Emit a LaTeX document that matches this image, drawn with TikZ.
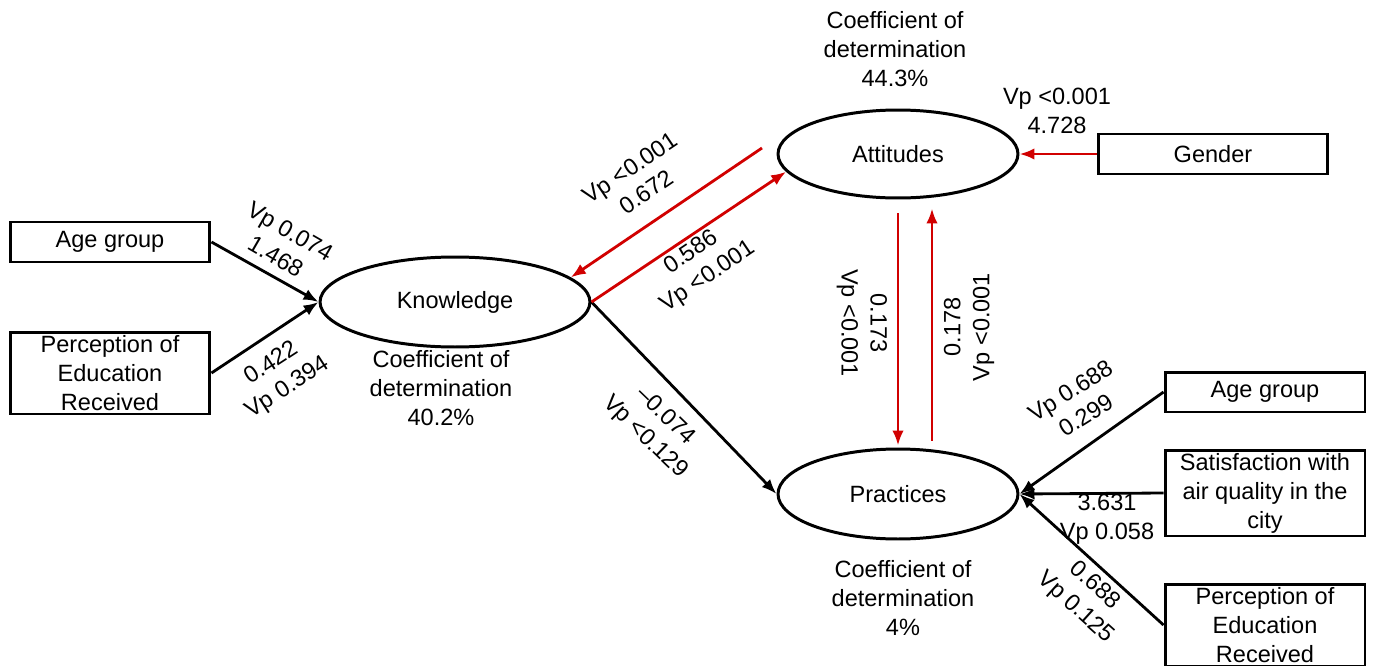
\documentclass[tikz,border=0pt]{standalone}
\usepackage{fontspec}
\setmainfont{Liberation Sans}
\usetikzlibrary{arrows.meta,shapes.geometric}
\definecolor{pathred}{HTML}{D10000}
\newcommand{\lbfont}{\fontsize{13.4}{16.5}\selectfont}

\begin{document}
\begin{tikzpicture}[x=0.02cm,y=-0.02cm]

\tikzset{>={Latex[width=2.3mm,length=3mm]}}
\tikzset{var/.style={draw,rectangle,line width=1.7pt,minimum width=4cm,align=center,font=\lbfont,inner sep=0pt},
	lat/.style={draw,ellipse,line width=1.7pt,font=\lbfont,inner sep=0pt},
	coef/.style={align=center,font=\lbfont,inner sep=0pt},
	blk/.style={->,line width=1.6pt,black},
	rd/.style={->,line width=1.6pt,pathred}}

\useasboundingbox (0,0) rectangle (1373,666);

%===================================================================
\node at (455,302) [lat,name=kn,minimum width=5.4cm,minimum height=1.8cm] {Knowledge};
\node at (898,154) [lat,name=at,minimum width=4.8cm,minimum height=1.76cm] {Attitudes};
\node at (898,494) [lat,name=pr,minimum width=4.8cm,minimum height=1.8cm] {Practices};

\node at (110,242) [var,name=ag1,minimum height=0.8cm] {Age group};
\node at (110,373) [var,name=pe1,minimum height=1.64cm] {Perception of\\Education\\Received};
\node at (1213,154) [var,name=ge,minimum width=4.6cm,minimum height=0.8cm] {Gender};
\node at (1265,392) [var,name=ag2,minimum height=0.8cm] {Age group};
\node at (1265,493) [var,name=sa,minimum height=1.72cm] {Satisfaction with\\air quality in the\\city};
\node at (1265,625) [var,name=pe2,minimum height=1.64cm] {Perception of\\Education\\Received};

\node[coef,name=cat] at (895,49) {Coefficient of\\determination\\44.3\%};
\node[coef,name=ckn] at (441,388) {Coefficient of\\determination\\40.2\%};
\node[coef,name=cpr] at (903,598) {Coefficient of\\determination\\4\%};

%===================================================================
\draw[blk] (ag1.east)--(kn.west);
\draw[blk] (pe1.east)--(kn.west);
\draw[blk] (kn.east)--(pr.west);
\draw[blk] (ag2.west)--(pr.east);
\draw[blk] (sa.west)--(pr.east);
\draw[blk] (pe2.west)--(pr.east);

\coordinate (rs) at (762,148);
\draw[rd] (rs)--(kn.12);
\draw[rd] (kn.east)--(at.189);
\draw[rd] (ge.west)--(at.east);
\draw[rd,shorten <=0.28cm,shorten >=0.04cm] (at.south)--(pr.north);
\draw[rd,shorten <=0.14cm,shorten >=0.18cm] ([xshift=0.68cm]pr.north)--([xshift=0.68cm]at.south);

%===================================================================
\node[coef,rotate=-30,name=t1] at (283,244) {Vp 0.074\\1.468};
\node[coef,rotate=33,name=t2] at (280,376) {0.422\\Vp 0.394};
\node[coef,rotate=34,name=t3] at (638,180) {Vp <0.001\\0.672};
\node[coef,rotate=34,name=t4] at (700,265) {0.586\\Vp <0.001};
\node[coef,rotate=-44,name=t5] at (655,427) {\textendash0.074\\Vp <0.129};
\node[coef,rotate=-90,name=t6] at (862,323) {0.173\\Vp <0.001};
\node[coef,rotate=90,name=t7] at (969,327) {0.178\\Vp <0.001};
\node[coef,name=t8] at (1057,111) {Vp <0.001\\4.728};
\node[coef,rotate=32,name=t9] at (1078,403) {Vp 0.688\\0.299};
\node[coef,name=t10] at (1107,519) {3.631\\Vp 0.058};
\node[coef,rotate=-42,name=t11] at (1085,597) {0.688\\Vp 0.125};

\end{tikzpicture}
\end{document}
